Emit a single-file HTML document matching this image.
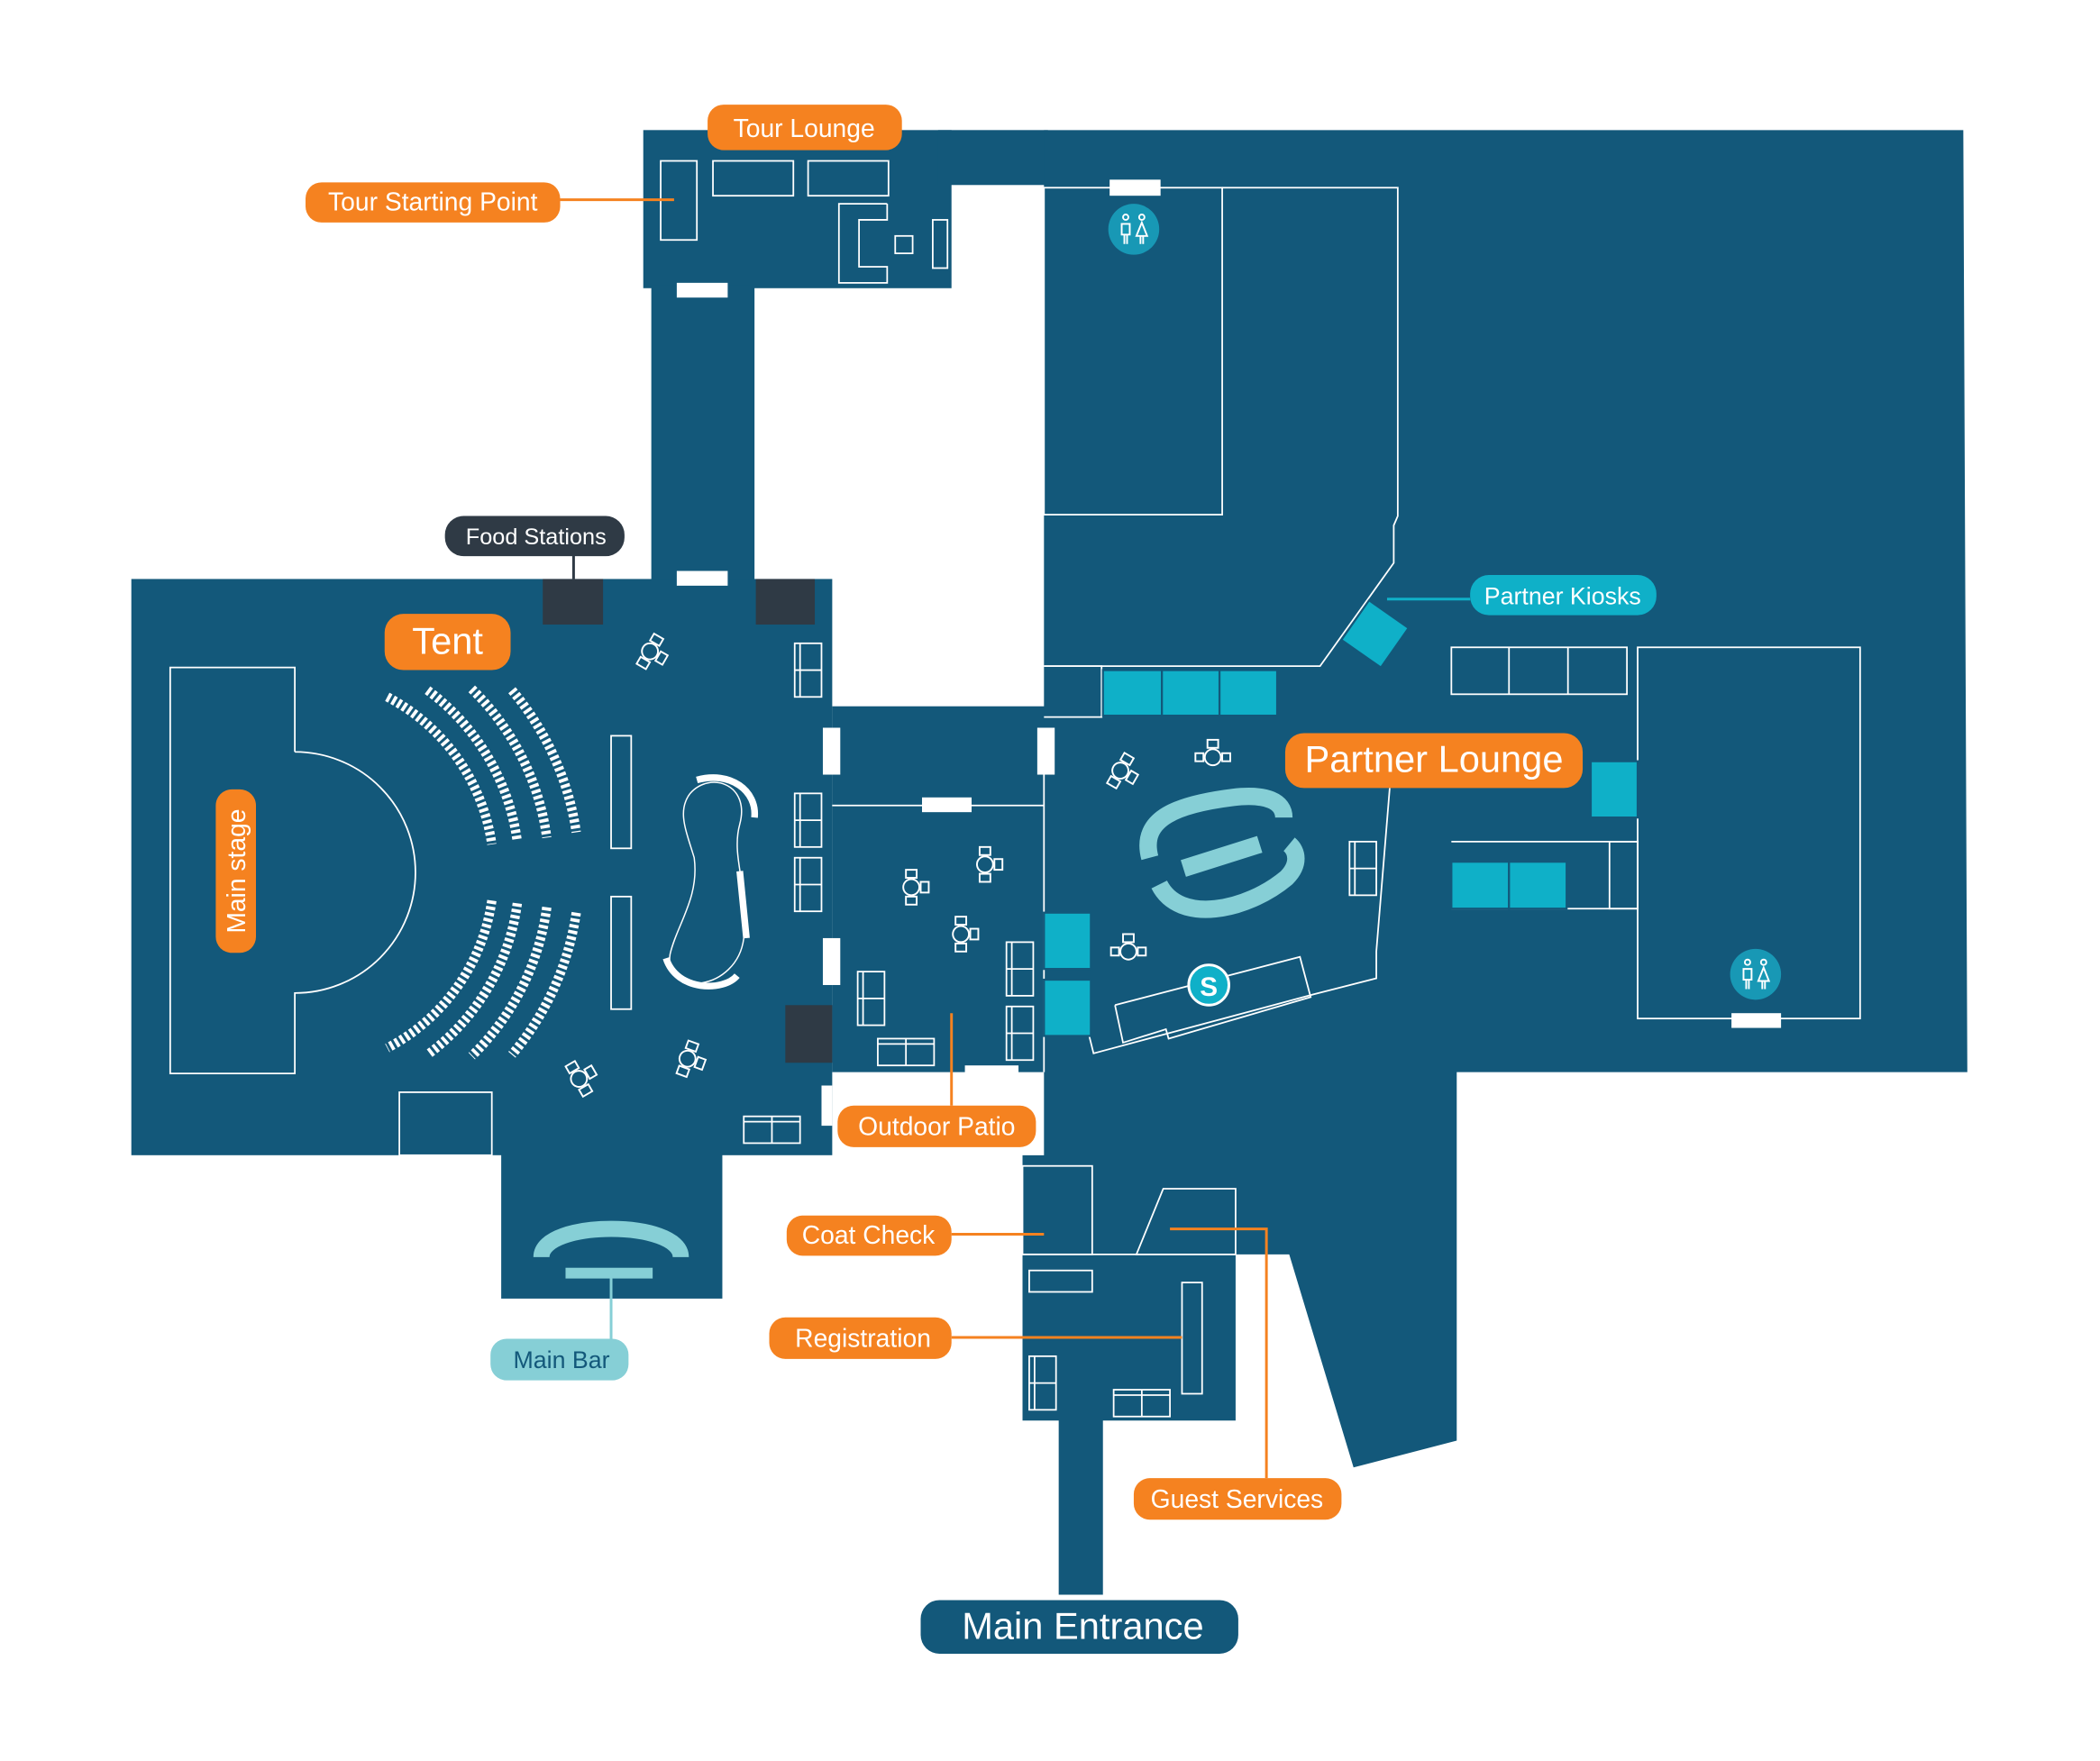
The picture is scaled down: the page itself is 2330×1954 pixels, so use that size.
<!DOCTYPE html>
<html><head><meta charset="utf-8"><style>
html,body{margin:0;padding:0;background:#fff;}
svg{display:block;}
text{font-family:"Liberation Sans",sans-serif;}
</style></head><body>
<svg width="2330" height="1954" viewBox="0 0 1567 1314" xmlns="http://www.w3.org/2000/svg">
<g fill="#13587a">
<rect x="480" y="97" width="230" height="118"/>
<rect x="700" y="97" width="82" height="41"/>
<rect x="486" y="213" width="77" height="222"/>
<rect x="98" y="432" width="523" height="430"/>
<rect x="374" y="860" width="165" height="109"/>
<rect x="621" y="527" width="160" height="273"/>
<polygon points="779,97 1465,97 1468,800 1087,800 1087,1075 1010,1095 962,936 922,936 922,1060 823,1060 823,1190 790,1190 790,1060 763,1060 763,862 779,862 779,800"/>
</g>
<rect x="720" y="795" width="40" height="25" fill="#fff"/>
<rect x="613" y="810" width="8" height="30" fill="#fff"/>
<g fill="none" stroke="#fff" stroke-width="1.2">
<rect x="493" y="120" width="27" height="59"/><rect x="532" y="120" width="60" height="26"/><rect x="603" y="120" width="60" height="26"/>
<polyline points="662,152 626,152 626,211 662,211 662,199 641,199 641,164 662,164 662,152"/>
<rect x="668" y="176" width="13" height="13"/><rect x="696" y="164" width="11" height="36"/>
<rect x="779" y="140" width="133" height="244"/>
<polyline points="912,140 1043,140 1043,385 1040,392 1040,420 985,497 779,497"/>
<polyline points="779,497 822,497 822,535 779,535"/>
<rect x="1083" y="483" width="131" height="35"/><line x1="1126" y1="483" x2="1126" y2="518"/><line x1="1170" y1="483" x2="1170" y2="518"/>
<rect x="1222" y="483" width="166" height="277"/>
<polyline points="1083,628 1222,628 1222,678 1083,678"/><rect x="1201" y="628" width="21" height="50"/>
<polyline points="1037,588 1027,710 1027,730 980,742 816,786 812,770"/>
<polyline points="832,750 970,714 978,744 872,775 870,768 838,778 832,750"/>
<line x1="621" y1="601" x2="779" y2="601"/>
<polyline points="779,578 779,800"/>
<path d="M220,561 L220,498 L127,498 L127,801 L220,801 L220,741 A90,90 0 0 0 220,561"/>
<rect x="298" y="815" width="69" height="47"/>
<rect x="456" y="549" width="15" height="84"/><rect x="456" y="669" width="15" height="84"/>
<path d="M515,592 C530,575 560,585 552,615 C545,640 560,665 555,700 C550,740 495,745 500,712 C505,690 522,670 518,640 C512,620 505,605 515,592 Z" stroke-width="1"/>
<rect x="593" y="480" width="20" height="40"/><line x1="597" y1="480" x2="597" y2="520"/><line x1="593" y1="500" x2="613" y2="500"/>
<rect x="593" y="592" width="20" height="40"/><line x1="597" y1="592" x2="597" y2="632"/><line x1="593" y1="612" x2="613" y2="612"/>
<rect x="593" y="640" width="20" height="40"/><line x1="597" y1="640" x2="597" y2="680"/><line x1="593" y1="660" x2="613" y2="660"/>
<rect x="555" y="833" width="42" height="20"/><line x1="555" y1="837" x2="597" y2="837"/><line x1="576" y1="833" x2="576" y2="853"/>
<rect x="640" y="725" width="20" height="40"/><line x1="644" y1="725" x2="644" y2="765"/><line x1="640" y1="745" x2="660" y2="745"/>
<rect x="655" y="775" width="42" height="20"/><line x1="655" y1="779" x2="697" y2="779"/><line x1="676" y1="775" x2="676" y2="795"/>
<rect x="751" y="703" width="20" height="40"/><line x1="755" y1="703" x2="755" y2="743"/><line x1="751" y1="723" x2="771" y2="723"/>
<rect x="751" y="751" width="20" height="40"/><line x1="755" y1="751" x2="755" y2="791"/><line x1="751" y1="771" x2="771" y2="771"/>
<rect x="1007" y="628" width="20" height="40"/><line x1="1011" y1="628" x2="1011" y2="668"/><line x1="1007" y1="648" x2="1027" y2="648"/>
<rect x="763" y="870" width="52" height="66"/><rect x="768" y="948" width="47" height="16"/>
<polygon points="868,887 922,887 922,936 848,936"/>
<rect x="882" y="957" width="15" height="83"/>
<rect x="768" y="1012" width="20" height="40"/><line x1="772" y1="1012" x2="772" y2="1052"/><line x1="768" y1="1032" x2="788" y2="1032"/>
<rect x="831" y="1037" width="42" height="20"/><line x1="831" y1="1041" x2="873" y2="1041"/><line x1="852" y1="1037" x2="852" y2="1057"/>
<line x1="763" y1="936" x2="922" y2="936"/>
</g>
<g fill="none" stroke="#fff" stroke-width="7" stroke-dasharray="2.5 2">
<path d="M289,520 A148,148 0 0 1 367,630"/><path d="M319,515 A168,168 0 0 1 386,628"/><path d="M352,514 A190,190 0 0 1 408,625"/><path d="M382,515 A212,212 0 0 1 430,621"/>
<path d="M367,672 A148,148 0 0 1 289,782"/><path d="M386,674 A168,168 0 0 1 319,787"/><path d="M408,677 A190,190 0 0 1 352,788"/><path d="M430,681 A212,212 0 0 1 382,787"/>
</g>
<g fill="none" stroke="#fff" stroke-width="5">
<path d="M520,582 C545,575 565,590 563,610"/><path d="M552,650 L557,700"/><path d="M497,715 C505,740 540,740 550,728"/>
</g>
<g fill="none" stroke="#fff" stroke-width="1.3">
<g transform="translate(485,486) rotate(30)"><circle r="6"/><rect x="-4" y="-13" width="8" height="6"/><rect x="-4" y="7" width="8" height="6"/><rect x="7" y="-4" width="6" height="8"/></g>
<g transform="translate(432,805) rotate(-30)"><circle r="6"/><rect x="-4" y="-13" width="8" height="6"/><rect x="-4" y="7" width="8" height="6"/><rect x="7" y="-4" width="6" height="8"/></g>
<g transform="translate(513,790) rotate(20)"><circle r="6"/><rect x="-4" y="-13" width="8" height="6"/><rect x="-4" y="7" width="8" height="6"/><rect x="7" y="-4" width="6" height="8"/></g>
<g transform="translate(680,662)"><circle r="6"/><rect x="-4" y="-13" width="8" height="6"/><rect x="-4" y="7" width="8" height="6"/><rect x="7" y="-4" width="6" height="8"/></g>
<g transform="translate(735,645)"><circle r="6"/><rect x="-4" y="-13" width="8" height="6"/><rect x="-4" y="7" width="8" height="6"/><rect x="7" y="-4" width="6" height="8"/></g>
<g transform="translate(717,697)"><circle r="6"/><rect x="-4" y="-13" width="8" height="6"/><rect x="-4" y="7" width="8" height="6"/><rect x="7" y="-4" width="6" height="8"/></g>
<g transform="translate(836,575) rotate(30)"><circle r="6"/><rect x="-4" y="-13" width="8" height="6"/><rect x="-4" y="7" width="8" height="6"/><rect x="7" y="-4" width="6" height="8"/></g>
<g transform="translate(905,565)"><circle r="6"/><rect x="-4" y="-13" width="8" height="6"/><rect x="-13" y="-3" width="6" height="6"/><rect x="7" y="-3" width="6" height="6"/></g>
<g transform="translate(842,710)"><circle r="6"/><rect x="-4" y="-13" width="8" height="6"/><rect x="-13" y="-3" width="6" height="6"/><rect x="7" y="-3" width="6" height="6"/></g>
</g>
<g fill="#2f3a45"><rect x="405" y="432" width="45" height="34"/><rect x="564" y="432" width="44" height="34"/><rect x="586" y="750" width="35" height="43"/></g>
<g fill="#fff"><rect x="505" y="426" width="38" height="11"/><rect x="505" y="211" width="38" height="11"/><rect x="614" y="543" width="13" height="35"/><rect x="774" y="543" width="13" height="35"/><rect x="614" y="700" width="13" height="35"/><rect x="688" y="595" width="37" height="11"/><rect x="1292" y="756" width="37" height="11"/><rect x="828" y="134" width="38" height="12"/></g>
<g fill="#0fb0c8" stroke="#13587a" stroke-width="1.5">
<rect x="823" y="500" width="44" height="34"/><rect x="867" y="500" width="43" height="34"/><rect x="910" y="500" width="43" height="34"/>
<rect x="1187" y="568" width="35" height="42"/><rect x="1083" y="643" width="43" height="35"/><rect x="1126" y="643" width="43" height="35"/>
<rect x="779" y="681" width="35" height="42"/><rect x="779" y="731" width="35" height="42"/>
<rect x="1008" y="455" width="36" height="36" transform="rotate(35 1026 473)"/>
</g>
<g fill="none" stroke="#86cfd6" stroke-width="13">
<path d="M858,640 C850,610 880,600 920,595 C945,592 958,598 958,610"/>
<path d="M865,660 C880,690 930,680 960,655 C970,645 968,635 962,630"/>
<path d="M883,648 L940,630"/>
</g>
<g>
<circle cx="846" cy="171" r="19" fill="#1898b5"/>
<g stroke="#fff" stroke-width="1.3" fill="none"><circle cx="840" cy="162" r="2"/><path d="M837,167 h6 v8 h-6 z M839,175 v7 M841,175 v7"/><circle cx="852" cy="162" r="2"/><path d="M852,166 l-4,10 h8 z M851,176 v6 M853,176 v6"/></g>
<circle cx="1310" cy="727" r="19" fill="#1898b5"/>
<g stroke="#fff" stroke-width="1.3" fill="none"><circle cx="1304" cy="718" r="2"/><path d="M1301,723 h6 v8 h-6 z M1303,731 v7 M1305,731 v7"/><circle cx="1316" cy="718" r="2"/><path d="M1316,722 l-4,10 h8 z M1315,732 v6 M1317,732 v6"/></g>
</g>
<circle cx="902" cy="735" r="15" fill="#0fb0c8" stroke="#fff" stroke-width="2"/><text x="902" y="743" font-size="20" font-weight="bold" fill="#fff" text-anchor="middle" font-family="Liberation Serif,serif">S</text>
<path d="M404,938 C404,910 508,910 508,938" fill="none" stroke="#86cfd6" stroke-width="12"/>
<rect x="422" y="946" width="65" height="8" fill="#86cfd6"/>
<g stroke="#f58220" stroke-width="2" fill="none">
<line x1="418" y1="149" x2="503" y2="149"/><line x1="710" y1="756" x2="710" y2="825"/>
<line x1="710" y1="921" x2="779" y2="921"/><line x1="710" y1="998" x2="882" y2="998"/>
<polyline points="945,1103 945,917 873,917"/>
</g>
<line x1="428" y1="414" x2="428" y2="432" stroke="#2f3a45" stroke-width="2"/>
<line x1="1035" y1="447" x2="1097" y2="447" stroke="#0fb0c8" stroke-width="2"/>
<line x1="456" y1="951" x2="456" y2="999" stroke="#86cfd6" stroke-width="2"/>
<g font-size="19" text-anchor="middle">
<rect x="528" y="78" width="145" height="34" rx="12" fill="#f58220"/><text x="600" y="102" fill="#fff">Tour Lounge</text>
<rect x="228" y="136" width="190" height="30" rx="12" fill="#f58220"/><text x="323" y="157" fill="#fff">Tour Starting Point</text>
<rect x="332" y="385" width="134" height="30" rx="14" fill="#2f3a45"/><text x="400" y="406" fill="#fff" font-size="17">Food Stations</text>
<rect x="287" y="458" width="94" height="42" rx="14" fill="#f58220"/><text x="334" y="488" fill="#fff" font-size="28">Tent</text>
<rect x="161" y="589" width="30" height="122" rx="12" fill="#f58220"/><text transform="translate(183,650) rotate(-90)" fill="#fff">Main stage</text>
<rect x="1097" y="429" width="139" height="30" rx="14" fill="#0fb0c8"/><text x="1166" y="451" fill="#fff" font-size="18">Partner Kiosks</text>
<rect x="959" y="547" width="222" height="41" rx="14" fill="#f58220"/><text x="1070" y="576" fill="#fff" font-size="28">Partner Lounge</text>
<rect x="625" y="825" width="148" height="31" rx="12" fill="#f58220"/><text x="699" y="847" fill="#fff">Outdoor Patio</text>
<rect x="587" y="907" width="123" height="30" rx="12" fill="#f58220"/><text x="648" y="928" fill="#fff">Coat Check</text>
<rect x="574" y="983" width="136" height="31" rx="12" fill="#f58220"/><text x="644" y="1005" fill="#fff">Registration</text>
<rect x="846" y="1103" width="155" height="31" rx="12" fill="#f58220"/><text x="923" y="1125" fill="#fff">Guest Services</text>
<rect x="366" y="999" width="103" height="31" rx="12" fill="#86cfd6"/><text x="419" y="1021" fill="#13587a" font-size="18">Main Bar</text>
<rect x="687" y="1194" width="237" height="40" rx="14" fill="#13587a"/><text x="808" y="1223" fill="#fff" font-size="28">Main Entrance</text>
</g>
</svg>
</body></html>
